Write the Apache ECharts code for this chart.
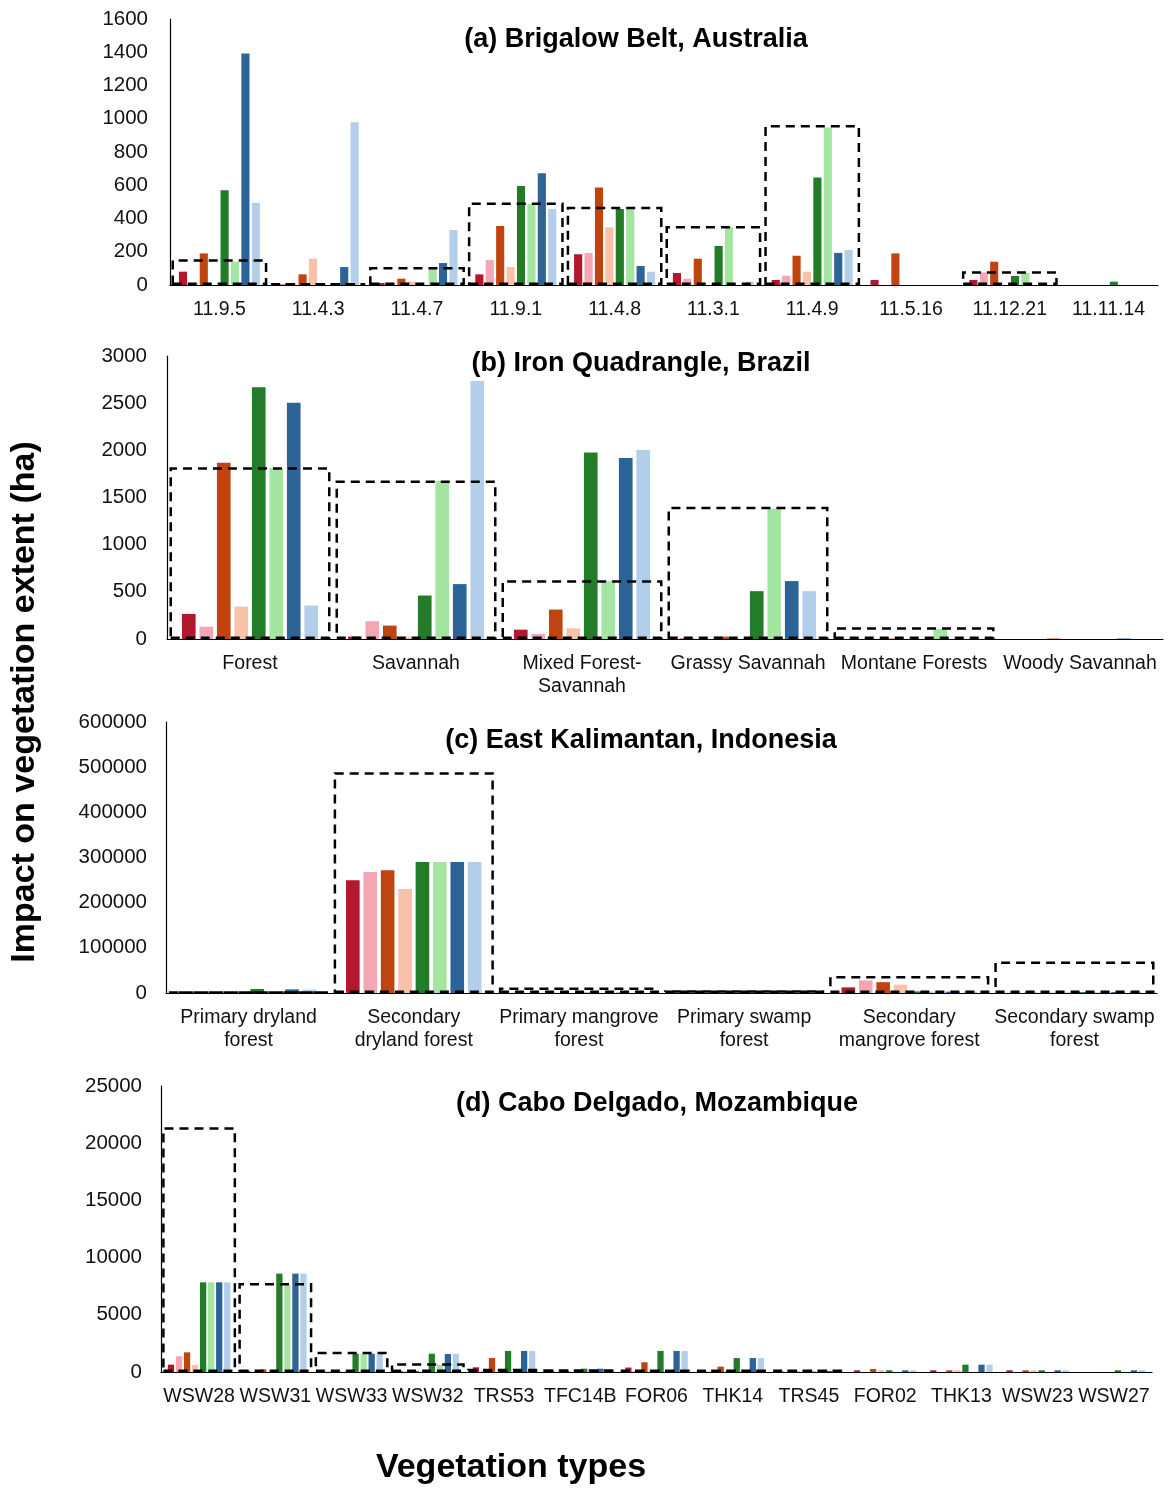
<!DOCTYPE html>
<html>
<head>
<meta charset="utf-8">
<script src="https://cdn.jsdelivr.net/npm/echarts@6/dist/echarts.min.js"></script>
<style>
html,body{margin:0;padding:0;background:#fff;}
#chart{width:1168px;height:1488px;}
</style>
</head>
<body>
<div id="chart"></div>
<script>
// ---------- DATA ----------
const colors = ['#B2172D','#F4A6B4','#C0440F','#F7C1AA','#237D28','#A3E5A1','#2D6497','#B3CEEA'];

// (a) Brigalow Belt, Australia
const catsA = ['11.9.5','11.4.3','11.4.7','11.9.1','11.4.8','11.3.1','11.4.9','11.5.16','11.12.21','11.11.14'];
const a1 = [80, 3, 12, 64, 185, 72, 30, 30, 30, 0];
const a2 = [10, 3, 12, 150, 193, 38, 56, 0, 76, 0];
const a3 = [190, 64, 38, 355, 586, 158, 176, 190, 140, 0];
const a4 = [0, 158, 20, 108, 347, 0, 80, 0, 0, 0];
const a5 = [570, 0, 0, 596, 457, 235, 646, 0, 54, 20];
const a6 = [140, 0, 108, 486, 457, 349, 947, 0, 72, 0];
const a7 = [1392, 108, 132, 672, 114, 0, 193, 0, 0, 0];
const a8 = [494, 979, 331, 457, 80, 20, 211, 0, 0, 0];
const boxA = [155, 10, 108, 496, 470, 355, 963, 0, 82, 0];

// (b) Iron Quadrangle, Brazil
const catsB = ['Forest','Savannah','Mixed Forest-\nSavannah','Grassy Savannah','Montane Forests','Woody Savannah'];
const b1 = [266, 25, 99, 5, 0, 0];
const b2 = [131, 188, 53, 0, 0, 0];
const b3 = [1869, 142, 312, 25, 5, 5];
const b4 = [344, 25, 113, 0, 0, 0];
const b5 = [2670, 461, 1976, 507, 0, 0];
const b6 = [1812, 1674, 614, 1383, 106, 0];
const b7 = [2504, 582, 1919, 614, 0, 5];
const b8 = [355, 2734, 2004, 507, 0, 0];
const boxB = [1820, 1680, 624, 1401, 124, 0];

// (c) East Kalimantan, Indonesia
const catsC = ['Primary dryland\nforest','Secondary\ndryland forest','Primary mangrove\nforest','Primary swamp\nforest','Secondary\nmangrove forest','Secondary swamp\nforest'];
const c1 = [500, 249500, 300, 300, 12500, 300];
const c2 = [300, 268000, 300, 300, 28000, 1500];
const c3 = [300, 271600, 300, 300, 24000, 300];
const c4 = [300, 230000, 300, 300, 18500, 1500];
const c5 = [8800, 290000, 800, 800, 3500, 2000];
const c6 = [1000, 290000, 300, 300, 3000, 1500];
const c7 = [8100, 290000, 800, 800, 3000, 2000];
const c8 = [7400, 290000, 300, 300, 3000, 1500];
const boxC = [2000, 489000, 12000, 6000, 37600, 70000];

// (d) Cabo Delgado, Mozambique
const catsD = ['WSW28','WSW31','WSW33','WSW32','TRS53','TFC14B','FOR06','THK14','TRS45','FOR02','THK13','WSW23','WSW27'];
const d1 = [640, 100, 30, 80, 410, 30, 390, 30, 30, 150, 150, 150, 0];
const d2 = [1370, 30, 50, 30, 100, 30, 100, 100, 30, 0, 0, 0, 0];
const d3 = [1720, 230, 30, 100, 1220, 30, 850, 470, 30, 260, 150, 150, 0];
const d4 = [610, 0, 50, 0, 260, 30, 200, 200, 30, 150, 150, 150, 0];
const d5 = [7840, 8600, 1600, 1600, 1840, 290, 1840, 1220, 30, 150, 640, 150, 150];
const d6 = [7840, 7600, 1600, 640, 100, 30, 30, 30, 30, 0, 0, 0, 0];
const d7 = [7840, 8600, 1600, 1570, 1840, 290, 1840, 1220, 100, 150, 640, 150, 150];
const d8 = [7840, 8600, 1600, 1600, 1840, 30, 1840, 1220, 30, 150, 640, 150, 150];
const boxD = [21390, 7780, 1780, 760, 290, 250, 200, 200, 200, 0, 0, 0, 0];

const titles = ['(a) Brigalow Belt, Australia','(b) Iron Quadrangle, Brazil','(c) East Kalimantan, Indonesia','(d) Cabo Delgado, Mozambique'];
const yMax = [1600, 3000, 600000, 25000];
const yStep = [200, 500, 100000, 5000];

// ---------- LAYOUT ----------
const FONT = '"Liberation Sans", Arial, sans-serif';
const panels = [
  {cats: catsA, series: [a1,a2,a3,a4,a5,a6,a7,a8], box: boxA, grid:{left:170, right:10, top:19, height:266}, title:{x:636, y:40}, ymargin:22},
  {cats: catsB, series: [b1,b2,b3,b4,b5,b6,b7,b8], box: boxB, grid:{left:167, right:5, top:356, height:283}, title:{x:641, y:364}, ymargin:20},
  {cats: catsC, series: [c1,c2,c3,c4,c5,c6,c7,c8], box: boxC, grid:{left:166, right:11, top:722, height:271}, title:{x:641, y:741}, ymargin:19},
  {cats: catsD, series: [d1,d2,d3,d4,d5,d6,d7,d8], box: boxD, grid:{left:161, right:16, top:1086, height:286}, title:{x:657, y:1104}, ymargin:19}
];

const grid = [], xAxis = [], yAxis = [], series = [], graphic = [];
panels.forEach((p, i) => {
  grid.push(Object.assign({containLabel:false}, p.grid));
  xAxis.push({
    type:'category', gridIndex:i, data:p.cats,
    axisTick:{show:false},
    axisLine:{lineStyle:{color:'#000', width:1.2}},
    axisLabel:{interval:0, fontSize:19.5, color:'#111', margin:13, lineHeight:23, fontFamily:FONT}
  });
  xAxis.push({type:'category', gridIndex:i, data:p.cats, show:false});
  yAxis.push({
    type:'value', gridIndex:i, min:0, max:yMax[i], interval:yStep[i],
    axisLine:{show:true, lineStyle:{color:'#000', width:1.2}},
    axisTick:{show:false}, splitLine:{show:false},
    axisLabel:{fontSize:20.5, color:'#111', margin:p.ymargin, fontFamily:FONT, formatter: v => String(v)}
  });
  p.series.forEach((arr, k) => {
    series.push({
      type:'bar', xAxisIndex:2*i, yAxisIndex:i, data:arr,
      barGap:'28%', barCategoryGap:'18%',
      itemStyle:{color:colors[k]}, silent:true, z:2
    });
  });
  series.push({
    type:'bar', xAxisIndex:2*i+1, yAxisIndex:i,
    data:p.box.map(v => v > 0 ? v : null),
    barWidth:'97%',
    itemStyle:{color:'rgba(0,0,0,0)', borderColor:'#000', borderWidth:2.5, borderType:[9,6]},
    silent:true, z:5
  });
  graphic.push({
    type:'text', x:p.title.x, y:p.title.y, z:10,
    style:{text:titles[i], font:'bold 27px ' + FONT, fill:'#000', textAlign:'center', textVerticalAlign:'middle'}
  });
});

graphic.push({
  type:'text', x:25, y:702, rotation:Math.PI/2, z:10,
  style:{text:'Impact on vegetation extent (ha)', font:'bold 34px ' + FONT, fill:'#000', textAlign:'center', textVerticalAlign:'middle'}
});
graphic.push({
  type:'text', x:511, y:1468, z:10,
  style:{text:'Vegetation types', font:'bold 34px ' + FONT, fill:'#000', textAlign:'center', textVerticalAlign:'middle'}
});

const chart = echarts.init(document.getElementById('chart'), null, {renderer:'canvas'});
chart.setOption({
  animation:false,
  backgroundColor:'#fff',
  grid, xAxis, yAxis, series, graphic
});
</script>
</body>
</html>
